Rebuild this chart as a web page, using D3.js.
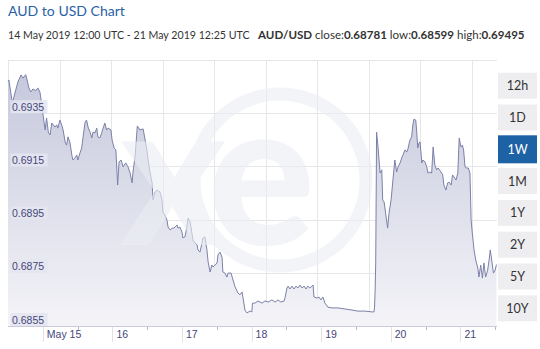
<!DOCTYPE html>
<html><head><meta charset="utf-8">
<script src="https://cdn.jsdelivr.net/npm/d3@7"></script>
<style>body{margin:0;background:#fff;} svg{display:block;}</style>
</head><body><svg id="c" width="540" height="349"></svg>
<script>
// ---------------- data ----------------
const title = "AUD to USD Chart";
const subtitle = "14 May 2019 12:00 UTC - 21 May 2019 12:25 UTC";
const pair = "AUD/USD";
const statLabels = ["close:", "low:", "high:"];
const statValues = ["0.68781", "0.68599", "0.69495"];
const rangeButtons = ["12h", "1D", "1W", "1M", "1Y", "2Y", "5Y", "10Y"];
const selectedRange = "1W";
const yTicks = [0.6855, 0.6875, 0.6895, 0.6915, 0.6935];
const yTop = 0.6955;
const startUTC = Date.UTC(2019, 4, 14, 12, 0);
const endUTC = Date.UTC(2019, 4, 21, 12, 25);
// hours after 14 May 2019 12:00 UTC
const hours = [0,0.3,1.5,2.4,3.4,4.5,5.2,6.1,6.6,7.2,7.9,8.6,9.6,10.3,11.0,11.6,12.1,12.8,13.3,13.9,14.5,15.1,16.2,16.8,17.2,17.9,18.5,19.0,19.7,20.2,20.7,21.4,22.0,22.4,23.1,23.7,24.1,24.8,25.4,25.9,26.6,27.1,27.6,28.3,28.9,29.3,30.0,30.6,31.0,31.7,32.3,32.8,33.4,34.0,34.5,35.5,35.9,36.6,37.2,37.8,38.3,39.0,39.7,40.6,41.4,42.1,42.8,43.1,43.8,44.6,45.5,46.6,47.9,48.3,49.0,49.7,50.0,50.7,51.4,52.4,53.1,53.4,54.1,54.8,55.2,55.9,56.6,57.2,58.3,58.6,59.3,60.0,60.3,61.0,61.7,62.1,62.8,63.4,63.8,64.5,65.2,65.5,66.2,66.9,67.2,67.9,68.6,69.0,69.7,70.3,70.7,71.4,72.1,72.4,73.1,73.8,74.1,74.8,75.5,75.9,76.9,77.6,78.3,79.3,80.0,80.7,81.0,81.7,82.4,83.4,84.1,84.3,85.2,86.2,87.6,88.6,89.7,91.0,92.1,93.1,94.1,95.2,95.5,96.2,96.6,97.2,97.9,98.6,99.3,100.0,100.7,101.4,102.1,102.8,103.4,104.1,104.8,105.2,105.5,106.6,107.2,107.9,108.6,109.3,110.3,111.7,113.8,116.2,118.6,120.7,123.1,125.5,126.2,126.4,126.6,126.8,127.1,127.6,128.3,128.9,129.2,129.7,130.2,130.9,131.4,132.1,132.8,133.4,134.0,134.5,135.2,135.8,136.2,136.9,137.5,137.9,138.6,139.2,139.6,140.0,140.6,140.9,141.3,141.7,142.1,142.7,143.1,143.8,144.4,144.8,145.5,146.1,146.6,147.2,147.8,148.3,149.3,149.9,150.3,151.0,151.6,152.1,152.8,153.3,153.8,154.5,155.1,155.6,156.2,156.7,157.1,157.6,158.2,158.7,159.3,159.7,160.1,160.7,161.3,162.0,162.4,163.0,163.6,164.1,164.7,165.4,165.9,166.3,166.8,167.4,168.0,168.42];
const rates = [0.69470,0.69475,0.69388,0.69426,0.69467,0.69494,0.69482,0.69495,0.69475,0.69445,0.69430,0.69441,0.69435,0.69445,0.69430,0.69388,0.69343,0.69287,0.69332,0.69279,0.69268,0.69313,0.69298,0.69306,0.69294,0.69324,0.69306,0.69287,0.69242,0.69230,0.69261,0.69238,0.69193,0.69174,0.69182,0.69193,0.69174,0.69200,0.69219,0.69261,0.69317,0.69324,0.69298,0.69279,0.69257,0.69279,0.69276,0.69294,0.69261,0.69257,0.69276,0.69294,0.69313,0.69287,0.69294,0.69287,0.69249,0.69219,0.69212,0.69080,0.69167,0.69174,0.69148,0.69163,0.69148,0.69125,0.69088,0.69129,0.69185,0.69302,0.69287,0.69291,0.69212,0.69174,0.69125,0.69088,0.69024,0.69054,0.69061,0.69054,0.69024,0.68979,0.68967,0.68949,0.68922,0.68911,0.68918,0.68918,0.68930,0.68918,0.68922,0.68903,0.68881,0.68885,0.68922,0.68956,0.68941,0.68900,0.68873,0.68862,0.68855,0.68836,0.68828,0.68862,0.68881,0.68885,0.68836,0.68791,0.68753,0.68779,0.68772,0.68779,0.68787,0.68817,0.68828,0.68809,0.68753,0.68749,0.68734,0.68749,0.68749,0.68723,0.68697,0.68674,0.68667,0.68678,0.68659,0.68610,0.68599,0.68606,0.68603,0.68636,0.68636,0.68644,0.68636,0.68644,0.68640,0.68648,0.68640,0.68648,0.68640,0.68644,0.68655,0.68693,0.68700,0.68689,0.68700,0.68689,0.68700,0.68693,0.68704,0.68693,0.68700,0.68689,0.68700,0.68693,0.68700,0.68704,0.68659,0.68655,0.68659,0.68648,0.68659,0.68636,0.68621,0.68618,0.68618,0.68614,0.68610,0.68606,0.68606,0.68603,0.68603,0.68621,0.68685,0.68787,0.69279,0.69223,0.69125,0.69137,0.69024,0.69016,0.68975,0.68918,0.68975,0.69024,0.69106,0.69174,0.69129,0.69148,0.69163,0.69182,0.69193,0.69212,0.69204,0.69215,0.69249,0.69261,0.69306,0.69328,0.69324,0.69287,0.69219,0.69238,0.69242,0.69163,0.69174,0.69167,0.69148,0.69125,0.69129,0.69125,0.69223,0.69155,0.69137,0.69144,0.69129,0.69118,0.69080,0.69061,0.69088,0.69091,0.69080,0.69118,0.69110,0.69099,0.69125,0.69257,0.69223,0.69230,0.69212,0.69148,0.69144,0.69144,0.69125,0.68949,0.68900,0.68836,0.68798,0.68768,0.68734,0.68779,0.68730,0.68787,0.68734,0.68760,0.68798,0.68836,0.68798,0.68749,0.68760,0.68781];

// ---------------- layout ----------------
const P = {left: 8, right: 496.4, top: 60, bottom: 326};
const svg = d3.select("#c");
const axisFont = "'Liberation Sans', Arial, sans-serif";
const uiFont = "Lato, 'Open Sans', sans-serif";

function fitWidth(sel, target, size) {
  sel.attr("font-size", size);
  const w = sel.node().getComputedTextLength();
  if (w > 0) sel.attr("font-size", size * target / w);
}

const data = hours.map((h, i) => ({t: new Date(startUTC + h * 3600e3), v: rates[i]}));
const x = d3.scaleUtc().domain([new Date(startUTC), new Date(endUTC)]).range([P.left, P.right]);
const y = d3.scaleLinear().domain([yTicks[0], yTop]).range([P.bottom, P.top]);

// gradient
const defs = svg.append("defs");
const grad = defs.append("linearGradient").attr("id", "g").attr("gradientUnits", "userSpaceOnUse")
  .attr("x1", 0).attr("x2", 0).attr("y1", P.top).attr("y2", P.bottom);
grad.append("stop").attr("offset", 0).attr("stop-color", "#c3c6db");
grad.append("stop").attr("offset", 1).attr("stop-color", "#f4f4f8");

// title & subtitle
const tt = svg.append("text").attr("x", 8).attr("y", 16).attr("font-family", uiFont)
  .attr("fill", "#2a62a8").text(title);
fitWidth(tt, 117, 15.5);
const st = svg.append("text").attr("x", 8).attr("y", 39).attr("font-family", uiFont)
  .attr("fill", "#333").text(subtitle);
fitWidth(st, 242, 11.5);
const stx = svg.append("text").attr("x", 258).attr("y", 39).attr("font-family", uiFont).attr("fill", "#333");
stx.append("tspan").attr("font-weight", "bold").text(pair);
statLabels.forEach((l, i) => {
  stx.append("tspan").text(" " + l);
  stx.append("tspan").attr("font-weight", "bold").text(statValues[i]);
});
fitWidth(stx, 267, 11.5);

// gridlines
const grid = svg.append("g").attr("stroke", "#e6e6e9").attr("stroke-width", 1);
grid.selectAll("line.h").data(yTicks.slice(1).concat([yTop])).join("line")
  .attr("x1", P.left).attr("x2", P.right + 0.6)
  .attr("y1", d => Math.round(y(d)) + 0.5).attr("y2", d => Math.round(y(d)) + 0.5);
const gridStep = (P.right - P.left) / 9.48;
grid.selectAll("line.v").data(d3.range(1, 10)).join("line")
  .attr("x1", k => Math.round(P.left + k * gridStep) + 0.5).attr("x2", k => Math.round(P.left + k * gridStep) + 0.5)
  .attr("y1", P.top).attr("y2", P.bottom);
grid.append("line").attr("x1", P.left + 0.5).attr("x2", P.left + 0.5).attr("y1", P.top).attr("y2", P.bottom);

// area + line
const area = d3.area().x(d => x(d.t)).y0(P.bottom).y1(d => y(d.v));
const line = d3.line().x(d => x(d.t)).y(d => y(d.v));
svg.append("path").datum(data).attr("d", area).attr("fill", "url(#g)");
svg.append("path").datum(data).attr("d", line).attr("fill", "none")
  .attr("stroke", "#7c81a8").attr("stroke-width", 1);

// watermark
const wm = svg.append("g").attr("opacity", 0.6);
wm.append("circle").attr("cx", 280).attr("cy", 180).attr("r", 86).attr("fill", "none")
  .attr("stroke", "#eceef4").attr("stroke-width", 13);
wm.append("text").attr("x", 120).attr("y", 245).attr("font-family", uiFont).attr("font-weight", 900)
  .attr("font-size", 200).attr("letter-spacing", -14).attr("fill", "#eceef4").text("xe");

// bottom axis line
svg.append("line").attr("x1", P.left).attr("x2", P.right + 0.6).attr("y1", P.bottom + 0.5).attr("y2", P.bottom + 0.5)
  .attr("stroke", "#c9cbdc");

// y labels
const yl = svg.append("g").attr("font-family", axisFont).attr("font-size", 10.5);
yl.selectAll("rect").data(yTicks).join("rect")
  .attr("x", 10.5).attr("y", d => y(d) - 13).attr("width", 37).attr("height", 13)
  .attr("fill", "#e4e5ef").attr("opacity", 0.9);
yl.selectAll("text").data(yTicks).join("text")
  .attr("x", 12).attr("y", d => y(d) - 2.5).attr("fill", "#45477a").text(d => d.toFixed(4));

// x axis: day separators, labels, noon ticks
const days = d3.utcDay.range(new Date(startUTC), new Date(endUTC));
const xa = svg.append("g").attr("font-family", axisFont).attr("font-size", 10.5);
xa.selectAll("line").data(days).join("line")
  .attr("x1", d => Math.round(x(d)) + 0.5).attr("x2", d => Math.round(x(d)) + 0.5)
  .attr("y1", P.bottom + 1).attr("y2", P.bottom + 16).attr("stroke", "#e2e2e6");
xa.selectAll("text").data(days).join("text")
  .attr("x", d => x(d) + 4).attr("y", 338).attr("fill", "#45477a")
  .text((d, i) => i === 0 ? d3.utcFormat("%b %-d")(d) : d3.utcFormat("%-d")(d));
const noons = d3.utcHour.every(12).range(new Date(startUTC + 1), new Date(endUTC)).filter(d => d.getUTCHours() === 12);
svg.append("g").selectAll("line").data(noons).join("line")
  .attr("x1", d => Math.round(x(d)) + 0.5).attr("x2", d => Math.round(x(d)) + 0.5)
  .attr("y1", P.bottom + 1).attr("y2", P.bottom + 4).attr("stroke", "#b5b7c8");

// range buttons
const bt = svg.append("g").attr("font-family", uiFont).attr("font-size", 12.5);
const bTop = 72.7, bStep = 31.8, bH = 26, bX = 498, bW = 39;
const b = bt.selectAll("g").data(rangeButtons).join("g")
  .attr("transform", (d, i) => `translate(${bX},${bTop + i * bStep})`);
b.append("rect").attr("width", bW).attr("height", d => d === selectedRange ? bH + 2 : bH)
  .attr("y", d => d === selectedRange ? -1 : 0)
  .attr("fill", d => d === selectedRange ? "#1e62a6" : "#eeeef1");
b.append("text").attr("x", bW / 2).attr("y", 17.5).attr("text-anchor", "middle")
  .attr("fill", d => d === selectedRange ? "#fff" : "#333").text(d => d);
</script></body></html>
